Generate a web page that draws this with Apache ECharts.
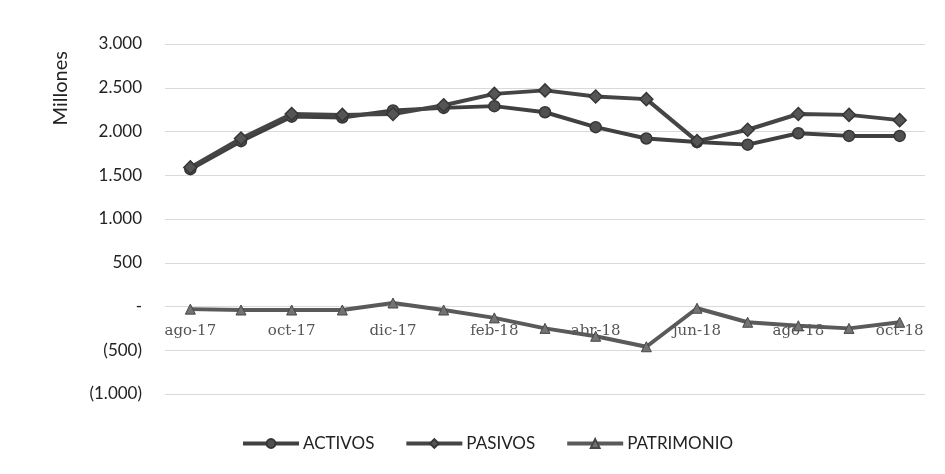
<!DOCTYPE html>
<html>
<head>
<meta charset="utf-8">
<script src="https://cdn.jsdelivr.net/npm/echarts@6/dist/echarts.min.js"></script>
<style>
html,body{margin:0;padding:0;background:#fff;}
#chart{width:945px;height:474px;}
</style>
</head>
<body>
<div id="chart"></div>
<script>
const categories = ['ago-17','sep-17','oct-17','nov-17','dic-17','ene-18','feb-18','mar-18','abr-18','may-18','jun-18','jul-18','ago-18','sep-18','oct-18'];
const activos = [1570, 1890, 2170, 2160, 2240, 2270, 2290, 2220, 2050, 1920, 1880, 1850, 1980, 1950, 1950];
const pasivos = [1590, 1920, 2200, 2190, 2200, 2300, 2430, 2470, 2400, 2370, 1890, 2020, 2200, 2190, 2130];
const patrimonio = [-30, -40, -40, -40, 40, -40, -130, -250, -340, -460, -20, -180, -220, -250, -180];
const yTicks = {min: -1000, max: 3000, interval: 500};

function fmtY(v){
  if (v === 0) return '-';
  const s = Math.abs(v).toString().replace(/\B(?=(\d{3})+(?!\d))/g, '.');
  return v < 0 ? '(' + s + ')' : s;
}

const gridTop = 44, gridBottom = 80, gridH = 474 - gridTop - gridBottom;
// move the category axis from the bottom (min) up to the zero line
const zeroOffset = -gridH * (0 - yTicks.min) / (yTicks.max - yTicks.min);

const chart = echarts.init(document.getElementById('chart'));
chart.setOption({
  backgroundColor: '#ffffff',
  animation: false,
  grid: {left: 165, right: 20, top: gridTop, bottom: gridBottom},
  graphic: [{
    type: 'text',
    left: 51, top: 51,
    rotation: Math.PI / 2,
    style: {text: 'Millones', font: '20px Lato', fill: '#222'}
  }],
  legend: {
    top: 430,
    left: 236,
    itemWidth: 56,
    itemHeight: 11,
    itemGap: 30,
    lineStyle: {width: 4},
    textStyle: {fontFamily: 'Lato', fontSize: 17, color: '#222', padding: [0,0,0,-1]},
    data: ['ACTIVOS','PASIVOS','PATRIMONIO']
  },
  xAxis: {
    type: 'category',
    data: categories,
    boundaryGap: true,
    offset: zeroOffset,
    axisLine: {show: false, onZero: false},
    axisTick: {show: false},
    axisLabel: {interval: 1, margin: 17, fontFamily: 'DejaVu Serif', fontSize: 15, color: '#555'}
  },
  yAxis: {
    type: 'value',
    min: yTicks.min, max: yTicks.max, interval: yTicks.interval,
    axisLine: {show: false},
    axisTick: {show: false},
    splitLine: {lineStyle: {color: '#d9d9d9', width: 1}},
    axisLabel: {formatter: fmtY, margin: 23, fontFamily: 'Lato', fontSize: 17, color: '#222'}
  },
  series: [
    {
      name: 'ACTIVOS', type: 'line', data: activos,
      symbol: 'circle', symbolSize: 11,
      lineStyle: {color: '#404040', width: 4},
      itemStyle: {color: '#505050', borderColor: '#363636', borderWidth: 1.5},
      z: 3
    },
    {
      name: 'PASIVOS', type: 'line', data: pasivos,
      symbol: 'diamond', symbolSize: 13,
      lineStyle: {color: '#454545', width: 4},
      itemStyle: {color: '#555555', borderColor: '#363636', borderWidth: 1.5},
      z: 4
    },
    {
      name: 'PATRIMONIO', type: 'line', data: patrimonio,
      symbol: 'triangle', symbolSize: 10,
      lineStyle: {color: '#5a5a5a', width: 4},
      itemStyle: {color: '#737373', borderColor: '#474747', borderWidth: 1},
      z: 5
    }
  ]
});
</script>
</body>
</html>
